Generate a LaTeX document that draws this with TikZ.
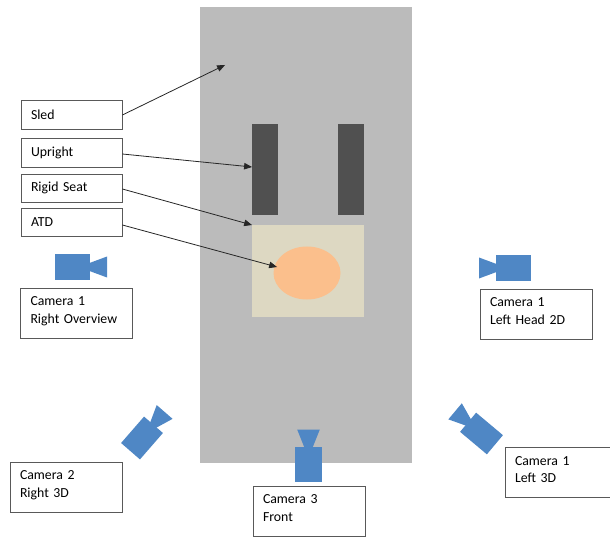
\documentclass[tikz,border=0pt]{standalone}
\usepackage{fontspec}
\setmainfont{Carlito}
\usetikzlibrary{arrows}
\definecolor{sledgray}{HTML}{BBBBBB}
\definecolor{uprightgray}{HTML}{505050}
\definecolor{seatbeige}{HTML}{DDD8C2}
\definecolor{atdorange}{HTML}{FBBF8C}
\definecolor{camblue}{HTML}{4F87C5}
\tikzset{
labelbox/.style = {rectangle, draw=black!65, line width=0.8pt, minimum width=101pt, minimum height=#1,
    inner xsep=10pt, inner ysep=0pt, text width=81pt, align=left, font=\fontsize{13.8}{17.5}\selectfont},
labelbox/.default = 29pt,
cambox/.style = {labelbox=50pt, minimum width=112pt, text width=92pt, text height=10pt, text depth=25pt},
pointer/.style = {-triangle 45, line width=0.8pt, black!85},
camera/.pic = {
    \fill [camblue] (-17.5,-12.5) rectangle (17.5,12.5);
    \fill [camblue] (17,-4) -- (34.5,-10.5) -- (34.5,10.5) -- (17,4) -- cycle;
}
}
\begin{document}
\begin{tikzpicture}[x=1pt,y=-1pt]
    \clip (0,0) rectangle (610,537);
    % sled and what sits on it
    \fill [sledgray] (200,7) rectangle (412,463);
    \fill [uprightgray] (252,124) rectangle (278,215);
    \fill [uprightgray] (338,124) rectangle (364,215);
    \fill [seatbeige] (252,225) rectangle (364,317);
    \fill [atdorange] (307,273) ellipse [x radius=33.5, y radius=26.5];
    % cameras
    \pic at (72.5,267) {camera};
    \pic [rotate=180] at (513.5,268) {camera};
    \pic [rotate=49] at (142,438) {camera};
    \pic [rotate=140] at (481.5,433.5) {camera};
    \pic [rotate=90, yscale=1.08] at (308.5,464) {camera};
    % labels
    \node [labelbox] (sled) at (71.5,115) {Sled};
    \node [labelbox] (upright) at (71.5,152.5) {Upright};
    \node [labelbox=28pt] (seat) at (71.5,188) {Rigid Seat};
    \node [labelbox=28pt] (atd) at (71.5,222) {ATD};
    \node [cambox] (camright) at (76.5,313) {Camera 1\\Right Overview};
    \node [cambox] (camrightd) at (66,487) {Camera 2\\Right 3D};
    \node [cambox] (camfront) at (309,511) {Camera 3\\Front};
    \node [cambox] (camleft) at (536,314) {Camera 1\\Left Head 2D};
    \node [cambox] (camleftd) at (561,472.5) {Camera 1\\Left 3D};
    % arrow ends
    \coordinate (sledend) at (225,65);
    \coordinate (uprightend) at (252,167);
    \coordinate (seatend) at (252,225);
    \coordinate (atdend) at (277,267);
    \draw [pointer] (sled.east) -- (sledend);
    \draw [pointer] ([yshift=-1.5pt]upright.east) -- (uprightend);
    \draw [pointer] ([yshift=-1pt]seat.east) -- (seatend);
    \draw [pointer] ([yshift=-3pt]atd.east) -- (atdend);
\end{tikzpicture}
\end{document}
